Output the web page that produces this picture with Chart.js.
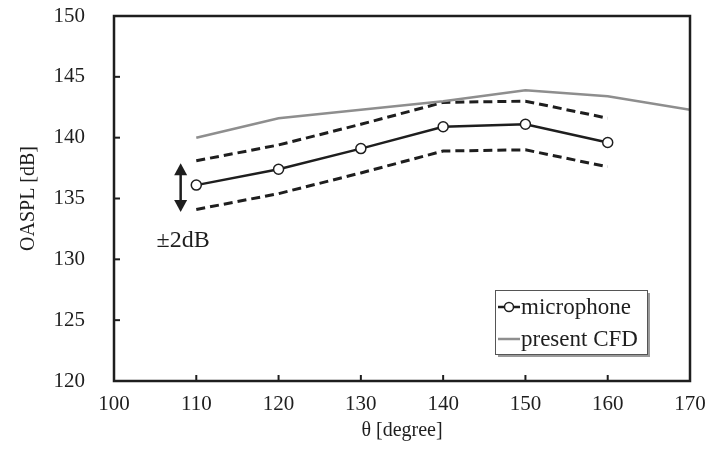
<!DOCTYPE html>
<html>
<head>
<meta charset="utf-8">
<script src="https://cdn.jsdelivr.net/npm/chart.js@4"></script>
<style>
  body { margin: 0; background: #fff; }
  canvas { display: block; }
</style>
</head>
<body>
<canvas id="oasplChart" width="713" height="460"></canvas>
<script>
// values
const angles = [110, 120, 130, 140, 150, 160];
const micValues = [136.1, 137.4, 139.1, 140.9, 141.1, 139.6];
const upperBand = [138.1, 139.4, 141.1, 142.9, 143.0, 141.6];
const lowerBand = [134.1, 135.4, 137.1, 138.9, 139.0, 137.6];
const cfdAngles = [110, 120, 130, 140, 150, 160, 170];
const cfdValues = [140.0, 141.6, 142.3, 143.0, 143.9, 143.4, 142.3];
const legendLabels = ["microphone", "present CFD"];
const bandNote = "±2dB";

const serif = "'Liberation Serif', 'Times New Roman', serif";
const ink = "#1e1e1e";
const cfdGray = "#8e8e8e";

function pts(xs, ys) {
  return xs.map((v, i) => ({ x: v, y: ys[i] }));
}

const decor = {
  id: "decor",
  afterDraw(chart) {
    const { ctx, chartArea: a, scales: { x, y } } = chart;
    ctx.save();

    // frame
    ctx.strokeStyle = ink;
    ctx.lineWidth = 2.5;
    ctx.strokeRect(a.left, a.top, a.right - a.left, a.bottom - a.top);

    // inward ticks
    ctx.lineWidth = 2;
    x.ticks.forEach(t => {
      if (t.value <= x.min || t.value >= x.max) return;
      const px = x.getPixelForValue(t.value);
      ctx.beginPath();
      ctx.moveTo(px, a.bottom);
      ctx.lineTo(px, a.bottom - 6);
      ctx.stroke();
    });
    y.ticks.forEach(t => {
      if (t.value <= y.min || t.value >= y.max) return;
      const py = y.getPixelForValue(t.value);
      ctx.beginPath();
      ctx.moveTo(a.left, py);
      ctx.lineTo(a.left + 6, py);
      ctx.stroke();
    });

    // double arrow for the +-2 dB band
    const ax = x.getPixelForValue(108.1);
    const yTop = y.getPixelForValue(137.9);
    const yBot = y.getPixelForValue(133.9);
    ctx.strokeStyle = ink;
    ctx.fillStyle = ink;
    ctx.lineWidth = 2.5;
    ctx.beginPath();
    ctx.moveTo(ax, yTop + 8);
    ctx.lineTo(ax, yBot - 8);
    ctx.stroke();
    ctx.beginPath();
    ctx.moveTo(ax, yTop);
    ctx.lineTo(ax - 6.5, yTop + 12);
    ctx.lineTo(ax + 6.5, yTop + 12);
    ctx.closePath();
    ctx.fill();
    ctx.beginPath();
    ctx.moveTo(ax, yBot);
    ctx.lineTo(ax - 6.5, yBot - 12);
    ctx.lineTo(ax + 6.5, yBot - 12);
    ctx.closePath();
    ctx.fill();

    ctx.font = "24px " + serif;
    ctx.textAlign = "center";
    ctx.textBaseline = "middle";
    ctx.fillText(bandNote, x.getPixelForValue(108.4), y.getPixelForValue(131.5));

    // legend box with shadow
    const bw = 152, bh = 64;
    const bx = a.right - 43 - bw;
    const by = a.bottom - 27 - bh;
    ctx.fillStyle = "#9a9a9a";
    ctx.fillRect(bx + 3, by + 3, bw, bh);
    ctx.fillStyle = "#fff";
    ctx.fillRect(bx, by, bw, bh);
    ctx.strokeStyle = "#555";
    ctx.lineWidth = 1;
    ctx.strokeRect(bx + 0.5, by + 0.5, bw, bh);

    const rows = [by + 17, by + 49];
    // microphone sample
    ctx.strokeStyle = ink;
    ctx.lineWidth = 2.5;
    ctx.beginPath();
    ctx.moveTo(bx + 3, rows[0]);
    ctx.lineTo(bx + 25, rows[0]);
    ctx.stroke();
    ctx.fillStyle = "#fff";
    ctx.lineWidth = 1.5;
    ctx.beginPath();
    ctx.arc(bx + 14, rows[0], 4.5, 0, Math.PI * 2);
    ctx.fill();
    ctx.stroke();
    // CFD sample
    ctx.strokeStyle = cfdGray;
    ctx.lineWidth = 2.5;
    ctx.beginPath();
    ctx.moveTo(bx + 3, rows[1]);
    ctx.lineTo(bx + 25, rows[1]);
    ctx.stroke();

    ctx.fillStyle = ink;
    ctx.font = "23px " + serif;
    ctx.textAlign = "left";
    legendLabels.forEach((lbl, i) => ctx.fillText(lbl, bx + 26, rows[i] + 1));

    ctx.restore();
  }
};

new Chart(document.getElementById("oasplChart").getContext("2d"), {
  type: "line",
  data: {
    datasets: [
      {
        label: "present CFD",
        data: pts(cfdAngles, cfdValues),
        borderColor: cfdGray,
        borderWidth: 2.5,
        pointRadius: 0,
        tension: 0
      },
      {
        label: "upper",
        data: pts(angles, upperBand),
        borderColor: ink,
        borderWidth: 3,
        borderDash: [9, 5],
        pointRadius: 0
      },
      {
        label: "lower",
        data: pts(angles, lowerBand),
        borderColor: ink,
        borderWidth: 3,
        borderDash: [9, 5],
        pointRadius: 0
      },
      {
        label: "microphone",
        data: pts(angles, micValues),
        borderColor: ink,
        borderWidth: 2.5,
        pointRadius: 5,
        pointBorderWidth: 1.5,
        pointBackgroundColor: "#fff",
        pointBorderColor: ink
      }
    ]
  },
  options: {
    responsive: false,
    animation: false,
    layout: { padding: { top: 16, right: 23, left: 0, bottom: 0 } },
    plugins: { legend: { display: false }, tooltip: { enabled: false } },
    scales: {
      x: {
        type: "linear",
        min: 100,
        max: 170,
        grid: { display: false },
        border: { display: false },
        ticks: { stepSize: 10, color: ink, padding: 3, font: { family: serif, size: 21 } },
        title: {
          display: true,
          text: "θ [degree]",
          color: ink,
          font: { family: serif, size: 20 },
          padding: { top: 0, bottom: 17 }
        },
        afterFit(scale) {
          scale.height = 79;
          scale.paddingLeft = 0;
          scale.paddingRight = 0;
        }
      },
      y: {
        min: 120,
        max: 150,
        grid: { display: false },
        border: { display: false },
        ticks: { stepSize: 5, color: ink, padding: 21, font: { family: serif, size: 21 } },
        title: {
          display: true,
          text: "OASPL [dB]",
          color: ink,
          font: { family: serif, size: 20 },
          padding: { top: 17, bottom: 0 }
        },
        afterFit(scale) {
          scale.width = 114;
          scale.paddingTop = 0;
          scale.paddingBottom = 0;
        }
      }
    }
  },
  plugins: [decor]
});
</script>
</body>
</html>
